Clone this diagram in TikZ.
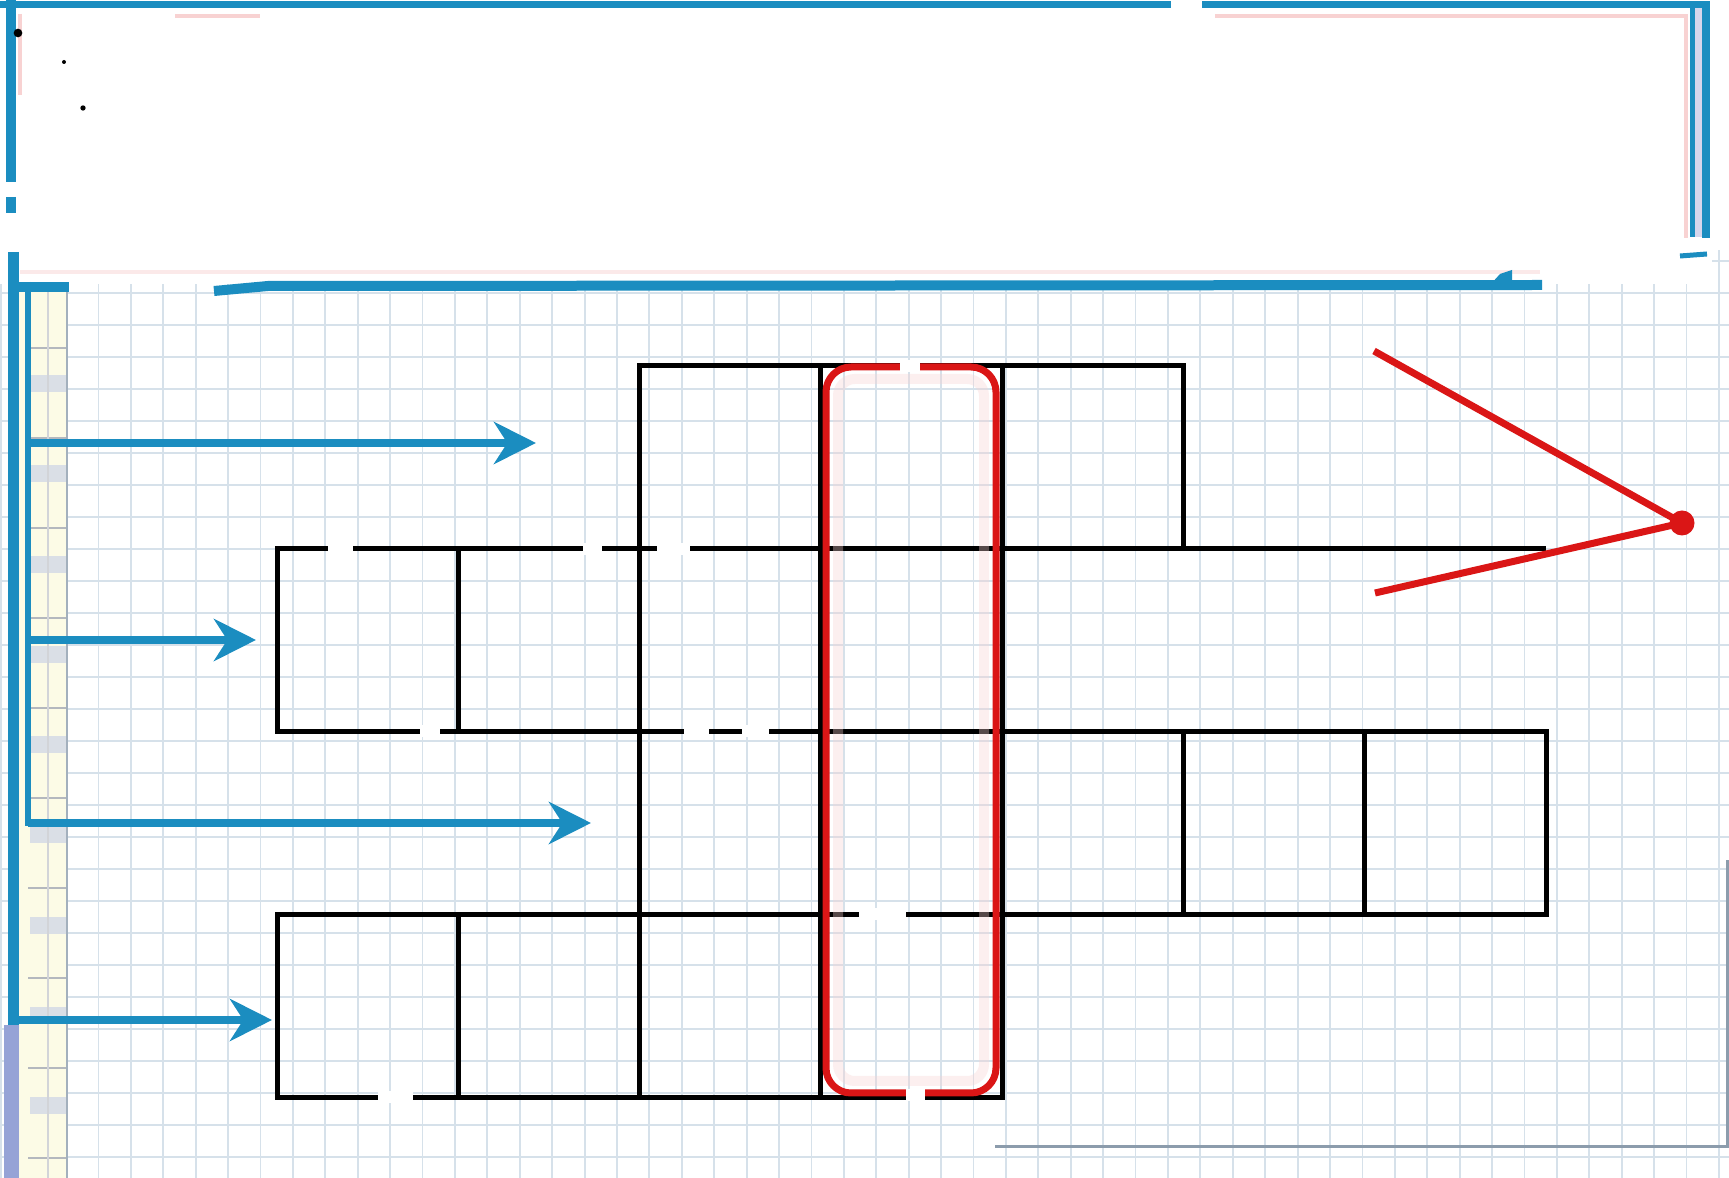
\documentclass[tikz,border=0pt]{standalone}
\usetikzlibrary{arrows.meta}
\definecolor{bluec}{RGB}{27,141,192}
\definecolor{redc}{RGB}{218,22,22}
\definecolor{gridc}{RGB}{214,225,234}
\definecolor{marg}{RGB}{252,251,230}
\definecolor{tickc}{RGB}{180,184,190}
\definecolor{blockc}{RGB}{218,223,230}
\definecolor{edgec}{RGB}{140,156,172}
\definecolor{pinkc}{RGB}{248,210,210}
\definecolor{lav}{RGB}{214,214,236}
\definecolor{purp}{RGB}{150,163,214}
\newcommand{\myGap}[3]{\fill[white] (#1,{#3-6}) rectangle (#2,{#3+6});}
\tikzset{
  gridline/.style={gridc, line width=0.55pt},
  cellbox/.style={draw=black, line width=1.5pt, minimum width=54.39pt, minimum height=54.83pt, inner sep=0pt, outer sep=0pt, anchor=north west},
  blackline/.style={black, line width=1.5pt},
  bluearrow/.style={bluec, line width=2.2pt, -{Stealth[length=12.6pt,width=12.6pt,inset=4pt]}},
  redline/.style={redc, line width=2.1pt},
  frame/.style={bluec},
}
\begin{document}
\begin{tikzpicture}[x=0.3pt,y=-0.3pt]
\useasboundingbox (0,0) rectangle (1729,1178);
\fill[white] (0,0) rectangle (1729,1178);
% graph paper
\foreach \k in {0,...,53} \draw[gridline] ({1.2+32.41*\k},0) -- ++(0,1178);
\foreach \k in {0,...,36} \draw[gridline] (0,{5+32*\k}) -- ++(1729,0);
% banner white area
\fill[white] (0,0) rectangle (1729,250);
\fill[white] (0,250) rectangle (1712,284);
% margin column
\fill[marg] (18,292) rectangle (67,1178);
\foreach \k in {0,...,8} \fill[blockc] (30,{375+90.3*\k}) rectangle (66,{392+90.3*\k});
\foreach \k in {0,...,9} \draw[tickc, line width=0.5pt] (28,{348+90*\k}) -- (67,{348+90*\k});
\draw[tickc!60, line width=0.4pt] (48,292) -- (48,1178);
\draw[edgec!80, line width=0.6pt] (67,292) -- (67,1178);
\fill[purp] (4,1025) rectangle (19,1178);
% faint pink traces in banner
\draw[pinkc, line width=1.2pt] (175,16) -- (260,16);
\draw[pinkc, line width=1.2pt] (1215,16) -- (1686,16) -- (1686,238);
\draw[pinkc, line width=1pt] (20,14) -- (20,95);
\draw[pinkc!50, line width=1.2pt] (20,272) -- (1540,272);
% banner frame
\draw[frame, line width=2.1pt] (0,5) -- (1710,5);
\fill[white] (1171,0) rectangle (1202,12);
\fill[lav] (1694,8) rectangle (1703,237);
\draw[frame, line width=1.5pt] (1692,3) -- (1692,237);
\draw[frame, line width=2.4pt] (1706,3) -- (1706,238);
\draw[frame, line width=3pt] (11,0) -- (11,182);
\draw[frame, line width=3pt] (11,197) -- (11,213);
\draw[frame, line width=3pt] (17,287) -- (69,287);
\draw[frame, line width=3pt] (214,291) -- (268,286) -- (1542,285);
\fill[frame] (1490,285) -- (1500,274) -- (1512,270) -- (1512,285) -- cycle;
\draw[frame, line width=1.5pt] (1680,256) -- (1707,254);
% crossword cells
\foreach \r/\c in {1/2,1/3,1/4,2/0,2/1,2/2,2/3,3/2,3/3,3/4,3/5,3/6,4/0,4/1,4/2,4/3}
  \node[cellbox] (c\r\c) at ({277+181.3*\c},{366+182.75*(\r-1)}) {};
\draw[blackline] (c14.south east) -- (c36.north east |- c14.south east);
% highlighted column
\draw[pinkc, opacity=0.35, line width=3pt, rounded corners=5pt] (838,379) rectangle (984,1081);
\draw[redc, line width=2.1pt, rounded corners=7.5pt] (826,367) rectangle (996,1093);
% erasure gaps
\myGap{328}{353}{548.75}
\myGap{583}{602}{548.75}
\myGap{657}{690}{548.75}
\myGap{420}{440}{731.5}
\myGap{684}{709}{731.5}
\myGap{742}{769}{731.5}
\myGap{859}{906}{914.25}
\myGap{378}{413}{1097}
\myGap{906}{925}{1095}
\myGap{900}{920}{366}
% blue arrows
\coordinate (a1s) at (28,443); \coordinate (a1e) at (536,443);
\coordinate (a2s) at (28,640); \coordinate (a2e) at (256,640);
\coordinate (a3s) at (28,823); \coordinate (a3e) at (591,823);
\coordinate (a4s) at (13,1020); \coordinate (a4e) at (272,1020);
\coordinate (v1top) at (13,252); \coordinate (v2top) at (28,282);
\draw[bluec, line width=3.3pt] (v1top) -- (13,1025);
\draw[bluec, line width=1.8pt] (v2top) -- (28,826);
\draw[bluearrow] (a1s) -- (a1e);
\draw[bluearrow] (a2s) -- (a2e);
\draw[bluearrow] (a3s) -- (a3e);
\draw[bluearrow] (a4s) -- (a4e);
% red angle
\node[circle, fill=redc, minimum size=7.5pt, inner sep=0pt] (vdot) at (1682,523) {};
\coordinate (rtop) at (1374,351);
\coordinate (rbot) at (1375,593);
\draw[redline] (rtop) -- (vdot.center) -- (rbot);
% paper edge bottom right
\draw[edgec, line width=0.9pt] (995,1147) -- (1727,1147) -- (1727,860);
% specks
\fill[black] (18,33) circle (1.3pt);
\fill[black] (64,62) circle (0.6pt);
\fill[black] (83,108) circle (0.8pt);
\end{tikzpicture}
\end{document}
